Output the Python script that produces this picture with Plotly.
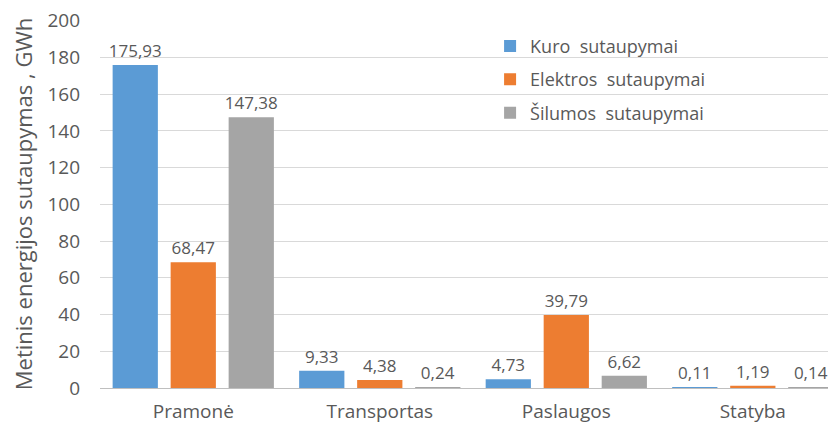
import plotly.graph_objects as go

# Sektoriai ir sutaupymai, GWh
sektoriai = ['Pramonė', 'Transportas', 'Paslaugos', 'Statyba']
kuras = [175.93, 9.33, 4.73, 0.11]
elektra = [68.47, 4.38, 39.79, 1.19]
siluma = [147.38, 0.24, 6.62, 0.14]

serijos = [
    ('Kuro  sutaupymai', kuras, '#5B9BD5'),
    ('Elektros  sutaupymai', elektra, '#ED7D31'),
    ('Šilumos  sutaupymai', siluma, '#A5A5A5'),
]

FONT = 'Open Sans'
GREY = '#595959'

fig = go.Figure()
for i, (name, vals, color) in enumerate(serijos):
    fig.add_trace(go.Bar(
        x=sektoriai,
        y=vals,
        name=name,
        legendgroup=str(i),
        marker=dict(color=color, line=dict(width=0)),
        text=[f'{v:.2f}'.replace('.', ',') for v in vals],
        textposition='outside',
        constraintext='none',
        textfont=dict(family=FONT, size=17, color=GREY),
        cliponaxis=False,
    ))

# the page body has an 8px margin, so the figure is made 8px smaller
fig.update_layout(
    width=828,
    height=422,
    margin=dict(l=92, r=0, t=12, b=42),
    paper_bgcolor='white',
    plot_bgcolor='white',
    barmode='group',
    bargap=0.067,
    bargroupgap=0.22,
    font=dict(family=FONT, color=GREY),
    legend=dict(
        x=0.53, y=0.979, xanchor='left', yanchor='top',
        font=dict(family=FONT, size=18, color=GREY),
        tracegroupgap=7,
        bgcolor='rgba(0,0,0,0)',
    ),
    xaxis=dict(
        range=[-0.5, 3.446],
        showgrid=False,
        showline=False,
        automargin=False,
        tickfont=dict(family=FONT, size=19, color=GREY),
        ticklabelstandoff=10,
    ),
    yaxis=dict(
        range=[0, 200.4],  # a hair above 200 so the top grid line is drawn
        tickmode='linear',
        tick0=0,
        dtick=20,
        showgrid=True,
        gridcolor='#D9D9D9',
        gridwidth=1,
        zeroline=True,
        zerolinecolor='#BFBFBF',
        zerolinewidth=1,
        automargin=False,
        ticklabeloverflow='allow',
        tickfont=dict(family=FONT, size=19, color=GREY),
        ticklabelstandoff=19,
        title=dict(text='Metinis energijos sutaupymas , GWh',
                   font=dict(family=FONT, size=22, color=GREY),
                   standoff=14),
    ),
)

fig.write_html('out.html')
